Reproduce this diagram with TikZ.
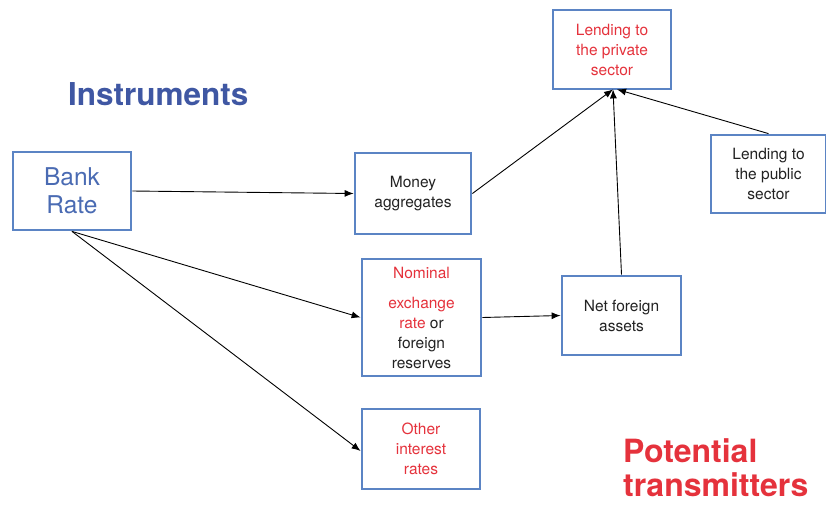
\documentclass[tikz,border=0pt]{standalone}
\usepackage{fontspec}
\setmainfont{TeX Gyre Heros}
\usetikzlibrary{arrows.meta}
\definecolor{boxblue}{HTML}{5B84C4}
\definecolor{txtblue}{HTML}{4A6BB3}
\definecolor{headblue}{HTML}{3F57A3}
\definecolor{txtred}{HTML}{E5323C}
\definecolor{txtgray}{HTML}{222222}
\tikzset{
  box/.style={draw=boxblue, line width=2.8pt, fill=white, align=center, inner sep=0pt,
    font=\fontsize{15.5}{20}\selectfont, text=txtgray},
  conn/.style={-{Latex[length=9pt,width=7pt]}, line width=0.9pt, black}
}
\begin{document}
\begin{tikzpicture}[x=1pt,y=-1pt]
\useasboundingbox (0,0) rectangle (826,504);
\fill[white] (0,0) rectangle (826,504);
\node[font=\fontsize{31.5}{36}\selectfont\bfseries, text=headblue, anchor=base west, inner sep=0pt] (instr) at (68,105) {Instruments};
\node[font=\fontsize{32}{36}\selectfont\bfseries, text=txtred, anchor=base west, inner sep=0pt] (pot1) at (623,462) {Potential};
\node[font=\fontsize{32}{36}\selectfont\bfseries, text=txtred, anchor=base west, inner sep=0pt] (pot2) at (623,496) {transmitters};

\node[box, minimum width=118pt, minimum height=78pt, text=txtblue, font=\fontsize{24.5}{28}\selectfont] (bank) at (72,191) {Bank\\Rate};
\node[box, minimum width=116pt, minimum height=81pt] (money) at (413,193.5) {Money\\aggregates};
\node[box, minimum width=119pt, minimum height=117pt, yshift=1pt] (nom) at (421.5,318.5) {\textcolor{txtred}{Nominal}\\[10pt]\textcolor{txtred}{exchange}\\\textcolor{txtred}{rate} or\\foreign\\reserves};
\node[box, minimum width=118pt, minimum height=80pt, text=txtred] (other) at (421,449) {Other\\interest\\rates};
\node[box, minimum width=119pt, minimum height=79pt] (net) at (621.5,315.5) {Net foreign\\assets};
\node[box, minimum width=118pt, minimum height=79pt, text=txtred] (priv) at (612,49.5) {Lending to\\the private\\sector};
\node[box, minimum width=115pt, minimum height=78pt] (pub) at (768.5,174) {Lending to\\the public\\sector};

\draw[conn] (bank.east) -- (money.west);
\draw[conn] (bank.south) -- (nom.west);
\draw[conn] (bank.south) -- ([yshift=-2pt]other.west);
\draw[conn] (nom.east) -- (net.west);
\draw[conn] (money.east) -- ([xshift=1pt,yshift=1pt]priv.south);
\draw[conn] (net.north) -- ([xshift=1pt,yshift=1pt]priv.south);
\draw[conn] (pub.north) -- ([xshift=5pt,yshift=1pt]priv.south);
\end{tikzpicture}
\end{document}
